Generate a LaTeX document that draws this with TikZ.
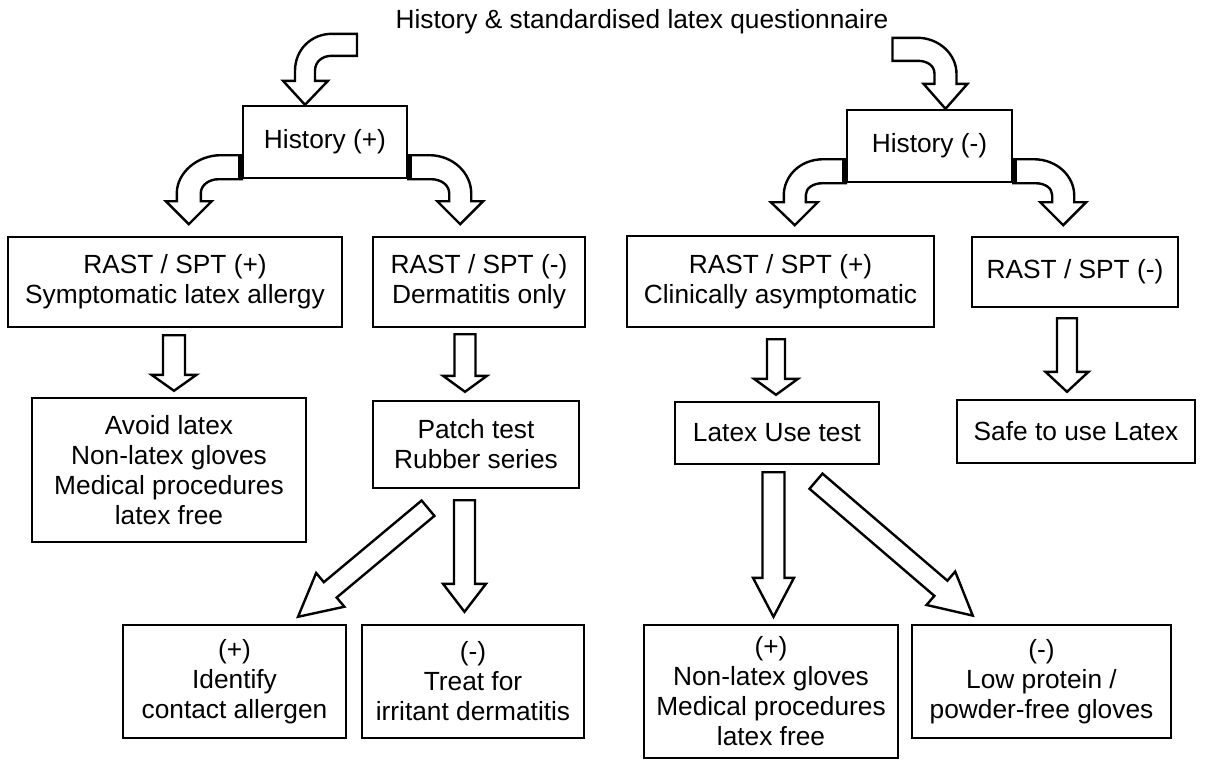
\documentclass[tikz,border=0pt]{standalone}
\usepackage{fontspec}
\setmainfont{Liberation Sans}
\usetikzlibrary{calc}
\tikzset{
  box/.style={draw, line width=1.2pt, fill=white, align=center, inner sep=0pt,
    font=\fontsize{13.15}{15}\selectfont},
  sz/.style 2 args={minimum width=#1*0.5pt, minimum height=#2*0.5pt},
  blk/.style={draw, line width=1.2pt, fill=white, line join=miter},
  ttl/.style={font=\fontsize{13.15}{15}\selectfont, inner sep=0pt},
}
% straight block arrow: start, end, shaft half width, head half width, head length (px)
\newcommand\barrow[5]{%
  \path #1; \pgfgetlastxy\bax\bay
  \path #2; \pgfgetlastxy\bbx\bby
  \pgfmathsetmacro\bang{atan2(\bby-\bay,\bbx-\bax)}%
  \pgfmathsetmacro\blen{veclen(\bbx-\bax,\bby-\bay)}%
  \draw[blk, shift={#1}, rotate=\bang, x=1pt, y=1pt]
    (0,#3*0.5) -- (\blen-#5*0.5,#3*0.5) -- (\blen-#5*0.5,#4*0.5) -- (\blen,0)
    -- (\blen-#5*0.5,-#4*0.5) -- (\blen-#5*0.5,-#3*0.5) -- (0,-#3*0.5) -- cycle;}
\begin{document}
\begin{tikzpicture}[x=0.5pt, y=-0.5pt]
\useasboundingbox (0,0) rectangle (1206,760);

\node[ttl] (title) at (642,22) {History \& standardised latex questionnaire};

\node[box, sz={164}{72}] (Hp) at (325,142) {History (+)};
\node[box, sz={165}{72}] (Hm) at (929.5,146) {History (-)};

\node[box, sz={334}{90}] (R1) at (175,282) {RAST / SPT (+)\\Symptomatic latex allergy};
\node[box, sz={212}{90}] (R2) at (479,282) {RAST / SPT (-)\\Dermatitis only};
\node[box, sz={307}{91}] (R3) at (780.5,281.5) {RAST / SPT (+)\\Clinically asymptomatic};
\node[box, sz={206}{70}] (R4) at (1075,272) {RAST / SPT (-)};

\node[box, sz={274}{144}] (A1) at (169,470) {Avoid latex\\Non-latex gloves\\Medical procedures\\latex free};
\node[box, sz={206}{87}] (P) at (476,444.5) {Patch test\\Rubber series};
\node[box, sz={204}{62}] (L) at (777,433) {Latex Use test};
\node[box, sz={238}{63}] (S) at (1076,431.5) {Safe to use Latex};

\node[box, sz={223}{113}] (I) at (234.5,681.5) {(+)\\Identify\\contact allergen};
\node[box, sz={222}{113}] (T) at (473,681.5) {(-)\\Treat for\\irritant dermatitis};
\node[box, sz={254}{133}] (N) at (771,691.5) {(+)\\Non-latex gloves\\Medical procedures\\latex free};
\node[box, sz={259}{113}] (Lo) at (1041.5,681.5) {(-)\\Low protein /\\powder-free gloves};

% curved block arrows
\begin{scope}[shift={(Hp.north)}]
\draw[blk] (32,-71) -- (7,-71) .. controls (-14,-71) and (-30,-55) .. (-30,-34) -- (-30,-24) -- (-42,-24) -- (-20,0) -- (3,-24) -- (-10,-24) -- (-10,-34) .. controls (-10,-43) and (-3,-49) .. (7,-49) -- (32,-49) -- cycle;
\end{scope}
\begin{scope}[shift={(Hm.north)}]
\draw[blk] (-37,-71) -- (-12,-71) .. controls (9,-71) and (27,-55) .. (27,-35) -- (27,-25) -- (38,-25) -- (16,0) -- (-6,-25) -- (5,-25) -- (5,-35) .. controls (5,-43) and (-2,-48) .. (-12,-48) -- (-37,-48) -- cycle;
\end{scope}
\begin{scope}[shift={(Hp.south west)}]
\draw[blk] (0,-24) -- (-21,-24) .. controls (-45,-24) and (-65,-6) .. (-65,14) -- (-65,22) -- (-76,22) -- (-53,45) -- (-30,22) -- (-41,22) -- (-41,14) .. controls (-41,6) and (-33,0) .. (-23,0) -- (0,0) -- cycle;
\fill (0,0) rectangle (-4,-24);
\end{scope}
\begin{scope}[shift={(Hp.south east)}]
\draw[blk] (0,-24) -- (21,-24) .. controls (45,-24) and (63,-6) .. (63,14) -- (63,22) -- (75,22) -- (52,45) -- (29,22) -- (41,22) -- (41,14) .. controls (41,6) and (33,0) .. (23,0) -- (0,0) -- cycle;
\fill (0,0) rectangle (4,-24);
\end{scope}
\begin{scope}[shift={(Hm.south west)}]
\draw[blk] (0,-24) -- (-22,-24) .. controls (-47,-24) and (-62,-6) .. (-62,12) -- (-62,19) -- (-75,19) -- (-51,42) -- (-28,19) -- (-40,19) -- (-40,12) .. controls (-40,5) and (-33,0) .. (-23,0) -- (0,0) -- cycle;
\fill (0,0) rectangle (-4,-24);
\end{scope}
\begin{scope}[shift={(Hm.south east)}]
\draw[blk] (0,-24) -- (20,-24) .. controls (45,-24) and (61,-6) .. (61,12) -- (61,19) -- (73,19) -- (50,42) -- (27,19) -- (39,19) -- (39,12) .. controls (39,5) and (32,0) .. (22,0) -- (0,0) -- cycle;
\fill (0,0) rectangle (4,-24);
\end{scope}

% straight block arrows
\barrow{($(R1.south)+(-1,7)$)}{($(A1.north)+(5,-6)$)}{11}{22.5}{16}
\barrow{($(R2.south)+(-14,6)$)}{($(P.north)+(-11,-8)$)}{10.5}{22}{16}
\barrow{($(R3.south)+(-4.5,11)$)}{($(L.north)+(-1,-6)$)}{9}{22}{16}
\barrow{($(R4.south)+(-8,10)$)}{($(S.north)+(-9,-7)$)}{10}{21.5}{20}
\barrow{($(P.south)+(-11.5,11)$)}{($(T.north)+(-8.5,-12)$)}{10.5}{21.5}{28}
\barrow{($(L.south)+(-3.5,7)$)}{($(N.north)+(2.5,-7)$)}{11}{20.5}{39}
\barrow{($(P.south)+(-48,19)$)}{($(I.north)+(63.5,-7)$)}{10}{22}{42}
\barrow{($(L.south)+(39,16)$)}{($(Lo.north)+(-68.5,-8)$)}{10}{22}{42}
\end{tikzpicture}
\end{document}
